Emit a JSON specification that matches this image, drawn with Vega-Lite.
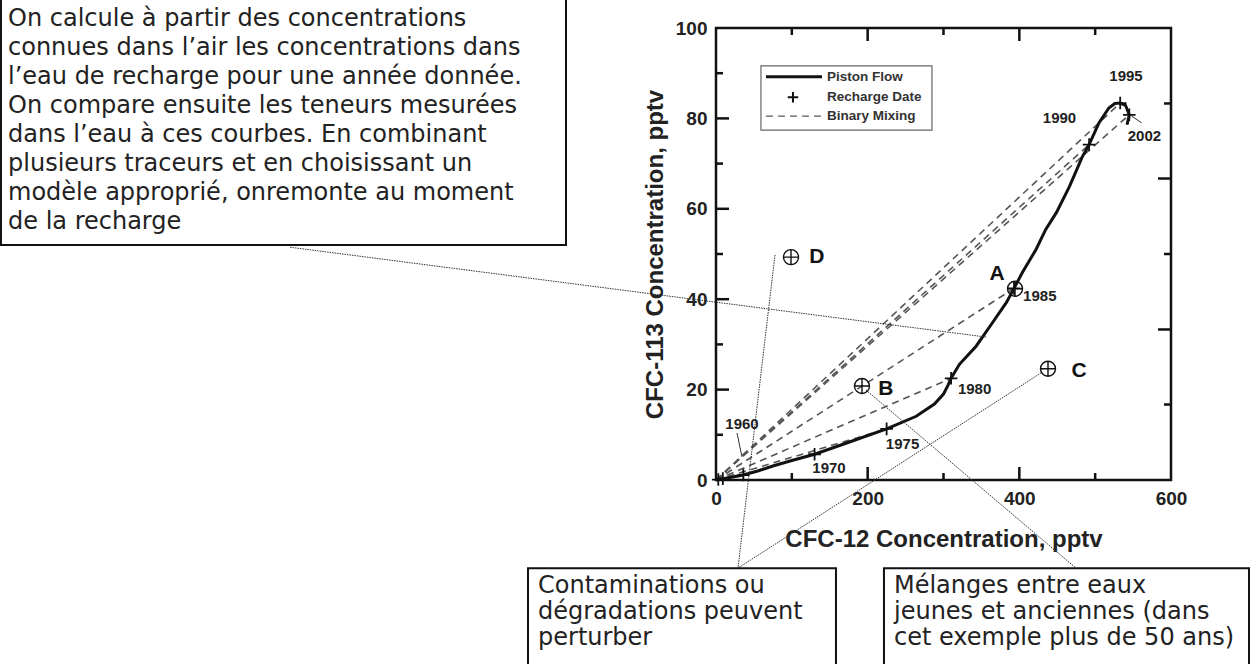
{
  "$schema": "https://vega.github.io/schema/vega-lite/v6.json",
  "width": 455,
  "height": 452,
  "autosize": {"type": "none"},
  "padding": {"left": 716, "top": 28, "right": 79, "bottom": 184},
  "background": "white",
  "config": {"view": {"stroke": "#111", "strokeWidth": 2.5}, "font": "Liberation Sans"},
  "datasets": {
    "curve": [
      {"x": 0, "y": 0, "o": 0}, {"x": 3, "y": 0.1, "o": 1}, {"x": 9, "y": 0.3, "o": 2}, {"x": 20, "y": 0.6, "o": 3},
      {"x": 36, "y": 1.1, "o": 4}, {"x": 55, "y": 2.0, "o": 5}, {"x": 75, "y": 3.1, "o": 6}, {"x": 100, "y": 4.3, "o": 7},
      {"x": 130, "y": 5.7, "o": 8}, {"x": 176, "y": 8.4, "o": 9}, {"x": 225, "y": 11.3, "o": 10}, {"x": 264, "y": 14.1, "o": 11},
      {"x": 288, "y": 16.8, "o": 12}, {"x": 300, "y": 19.0, "o": 13}, {"x": 306, "y": 21.0, "o": 14}, {"x": 310, "y": 22.5, "o": 15},
      {"x": 321, "y": 25.6, "o": 16}, {"x": 343, "y": 29.6, "o": 17}, {"x": 365, "y": 34.9, "o": 18}, {"x": 383, "y": 39.3, "o": 19},
      {"x": 393, "y": 42.4, "o": 20}, {"x": 404, "y": 45.9, "o": 21}, {"x": 422, "y": 51.0, "o": 22}, {"x": 435, "y": 55.5, "o": 23},
      {"x": 449, "y": 59.2, "o": 24}, {"x": 466, "y": 64.9, "o": 25}, {"x": 483, "y": 71.5, "o": 26}, {"x": 492, "y": 74.2, "o": 27},
      {"x": 505, "y": 79.0, "o": 28}, {"x": 518, "y": 82.3, "o": 29}, {"x": 526, "y": 83.3, "o": 30}, {"x": 533, "y": 83.4, "o": 31},
      {"x": 540, "y": 82.9, "o": 32}, {"x": 545, "y": 80.8, "o": 33}, {"x": 542, "y": 78.6, "o": 34}
    ],
    "dates": [
      {"x": 3, "y": 0.1}, {"x": 9, "y": 0.3}, {"x": 36, "y": 1.1}, {"x": 130, "y": 5.7}, {"x": 225, "y": 11.3},
      {"x": 310, "y": 22.5}, {"x": 393, "y": 42.4}, {"x": 492, "y": 74.2}, {"x": 533, "y": 83.4}, {"x": 545, "y": 80.8}
    ],
    "mixing": [
      {"x": 0, "y": 0, "x2": 225, "y2": 11.3},
      {"x": 0, "y": 0, "x2": 310, "y2": 22.5},
      {"x": 0, "y": 0, "x2": 393, "y2": 42.4},
      {"x": 0, "y": 0, "x2": 492, "y2": 74.2},
      {"x": 0, "y": 0, "x2": 533, "y2": 83.4},
      {"x": 0, "y": 0, "x2": 545, "y2": 80.8}
    ],
    "yearlabels": [
      {"x": 34.3, "y": 12.4, "t": "1960"}, {"x": 149, "y": 2.65, "t": "1970"}, {"x": 246, "y": 8.0, "t": "1975"},
      {"x": 341, "y": 20.1, "t": "1980"}, {"x": 427, "y": 40.7, "t": "1985"}, {"x": 453, "y": 80.1, "t": "1990"},
      {"x": 540.7, "y": 89.4, "t": "1995"}, {"x": 565, "y": 76.0, "t": "2002"}
    ],
    "yearleaders": [
      {"x": 27.7, "y": 10.4, "x2": 34.3, "y2": 5.1},
      {"x": 548.2, "y": 80.5, "x2": 561.4, "y2": 79.0}
    ],
    "samples": [
      {"x": 394.3, "y": 42.3, "t": "A"}, {"x": 192.5, "y": 20.8, "t": "B"},
      {"x": 437.8, "y": 24.6, "t": "C"}, {"x": 98.9, "y": 49.3, "t": "D"}
    ],
    "samplelabels": [
      {"x": 370.6, "y": 45.6, "t": "A"}, {"x": 224, "y": 20.1, "t": "B"},
      {"x": 478.7, "y": 24.1, "t": "C"}, {"x": 133, "y": 49.3, "t": "D"}
    ],
    "legendbox": [{"x": 59.3, "x2": 284.8, "y": 77.4, "y2": 91.6}],
    "legendsolid": [{"x": 65.9, "x2": 139.8, "y": 89.2, "y2": 89.2}],
    "legenddash": [{"x": 65.9, "x2": 139.8, "y": 80.5, "y2": 80.5}],
    "legendplus": [{"x": 101.5, "y": 84.7}],
    "legendtext": [
      {"x": 146.4, "y": 89.2, "t": "Piston Flow"},
      {"x": 146.4, "y": 84.7, "t": "Recharge Date"},
      {"x": 146.4, "y": 80.5, "t": "Binary Mixing"}
    ],
    "leaders": [
      {"x": -561.8, "y": 51.5, "x2": 357.4, "y2": 31.6},
      {"x": 77.8, "y": 49.8, "x2": 29.0, "y2": -19.5},
      {"x": 428.6, "y": 23.7, "x2": 29.0, "y2": -19.5},
      {"x": 197.8, "y": 19.9, "x2": 474.7, "y2": -19.5}
    ],
    "boxes": [
      {"x": -942.9, "x2": -197.8, "y": 106.6, "y2": 52.0},
      {"x": -247.9, "x2": 158.2, "y": -19.5, "y2": -41.5},
      {"x": 221.5, "x2": 702.9, "y": -19.5, "y2": -41.5}
    ],
    "boxtext": [
      {"x": -933.6, "y": 101.99, "t": "On calcule à partir des concentrations"},
      {"x": -933.6, "y": 95.58, "t": "connues dans l’air les concentrations dans"},
      {"x": -933.6, "y": 89.16, "t": "l’eau de recharge pour une année donnée."},
      {"x": -933.6, "y": 82.74, "t": "On compare ensuite les teneurs mesurées"},
      {"x": -933.6, "y": 76.33, "t": "dans l’eau à ces courbes. En combinant"},
      {"x": -933.6, "y": 69.91, "t": "plusieurs traceurs et en choisissant un"},
      {"x": -933.6, "y": 63.50, "t": "modèle approprié, onremonte au moment"},
      {"x": -933.6, "y": 57.08, "t": "de la recharge"},
      {"x": -234.7, "y": -23.45, "t": "Contaminations ou"},
      {"x": -234.7, "y": -29.20, "t": "dégradations peuvent"},
      {"x": -234.7, "y": -34.96, "t": "perturber"},
      {"x": 234.7, "y": -23.45, "t": "Mélanges entre eaux"},
      {"x": 234.7, "y": -29.20, "t": "jeunes  et anciennes  (dans"},
      {"x": 234.7, "y": -34.96, "t": "cet exemple plus de 50 ans)"}
    ],
    "xticks": [
      {"x": 100, "k": "minor"}, {"x": 200, "k": "major"}, {"x": 300, "k": "minor"},
      {"x": 400, "k": "major"}, {"x": 500, "k": "minor"}
    ],
    "lticks": [
      {"y": 10, "k": "minor"}, {"y": 20, "k": "major"}, {"y": 30, "k": "minor"}, {"y": 40, "k": "major"},
      {"y": 50, "k": "minor"}, {"y": 60, "k": "major"}, {"y": 70, "k": "minor"}, {"y": 80, "k": "major"}, {"y": 90, "k": "minor"}
    ],
    "rticks": [
      {"y": 16.7, "k": "minor"}, {"y": 33.3, "k": "major"}, {"y": 50, "k": "minor"},
      {"y": 66.7, "k": "major"}, {"y": 83.3, "k": "minor"}
    ]
  },
  "encoding": {
    "x": {
      "field": "x", "type": "quantitative",
      "scale": {"domain": [0, 600], "nice": false, "zero": false},
      "axis": {
        "title": "CFC-12 Concentration, pptv", "values": [0, 200, 400, 600], "ticks": false, "domain": false, "grid": false,
        "labelFont": "Liberation Sans", "labelFontWeight": "bold", "labelFontSize": 19, "labelColor": "#222",
        "labelPadding": 9, "labelFlush": false, "labelOverlap": false,
        "titleFont": "Liberation Sans", "titleFontWeight": "bold", "titleFontSize": 24, "titleColor": "#222", "titlePadding": 19
      }
    },
    "y": {
      "field": "y", "type": "quantitative",
      "scale": {"domain": [0, 100], "nice": false, "zero": false},
      "axis": {
        "title": "CFC-113 Concentration, pptv", "values": [0, 20, 40, 60, 80, 100], "ticks": false, "domain": false, "grid": false,
        "labelFont": "Liberation Sans", "labelFontWeight": "bold", "labelFontSize": 19, "labelColor": "#222",
        "labelPadding": 9, "labelOverlap": false,
        "titleFont": "Liberation Sans", "titleFontWeight": "bold", "titleFontSize": 24, "titleColor": "#222", "titlePadding": 8
      }
    }
  },
  "layer": [
    {
      "data": {"name": "xticks"},
      "mark": {"type": "tick", "clip": true, "color": "#111", "thickness": 2.5, "opacity": 1},
      "encoding": {"y": {"value": 452}, "size": {"field": "k", "type": "nominal", "scale": {"domain": ["major", "minor"], "range": [26, 14]}, "legend": null}}
    },
    {
      "data": {"name": "xticks"},
      "mark": {"type": "tick", "clip": true, "color": "#111", "thickness": 2.5, "opacity": 1},
      "encoding": {"y": {"value": 0}, "size": {"field": "k", "type": "nominal", "scale": {"domain": ["major", "minor"], "range": [26, 14]}, "legend": null}}
    },
    {
      "data": {"name": "lticks"},
      "mark": {"type": "tick", "clip": true, "color": "#111", "thickness": 2.5, "opacity": 1},
      "encoding": {"x": {"value": 0}, "size": {"field": "k", "type": "nominal", "scale": {"domain": ["major", "minor"], "range": [26, 14]}, "legend": null}}
    },
    {
      "data": {"name": "rticks"},
      "mark": {"type": "tick", "clip": true, "color": "#111", "thickness": 2.5, "opacity": 1},
      "encoding": {"x": {"value": 455}, "size": {"field": "k", "type": "nominal", "scale": {"domain": ["major", "minor"], "range": [26, 14]}, "legend": null}}
    },
    {
      "data": {"name": "mixing"},
      "mark": {"type": "rule", "color": "#555", "strokeWidth": 1.6, "strokeDash": [7, 5]},
      "encoding": {"x2": {"field": "x2"}, "y2": {"field": "y2"}}
    },
    {
      "data": {"name": "curve"},
      "mark": {"type": "line", "color": "#111", "strokeWidth": 3},
      "encoding": {"order": {"field": "o", "type": "quantitative"}}
    },
    {
      "data": {"name": "dates"},
      "mark": {"type": "point", "shape": "M -1 0 L 1 0 M 0 -1 L 0 1", "size": 160, "filled": false, "color": "#111", "strokeWidth": 1.8, "opacity": 1},
      "encoding": {}
    },
    {
      "data": {"name": "yearleaders"},
      "mark": {"type": "rule", "color": "#333", "strokeWidth": 1},
      "encoding": {"x2": {"field": "x2"}, "y2": {"field": "y2"}}
    },
    {
      "data": {"name": "yearlabels"},
      "mark": {"type": "text", "font": "Liberation Sans", "fontWeight": "bold", "fontSize": 15, "color": "#222", "align": "center", "baseline": "middle"},
      "encoding": {"text": {"field": "t"}}
    },
    {
      "data": {"name": "samples"},
      "mark": {"type": "point", "shape": "M -1 0 A 1 1 0 1 1 1 0 A 1 1 0 1 1 -1 0 Z M -1 0 L 1 0 M 0 -1 L 0 1", "size": 225, "filled": false, "color": "#111", "strokeWidth": 1.4, "opacity": 1},
      "encoding": {}
    },
    {
      "data": {"name": "samplelabels"},
      "mark": {"type": "text", "font": "Liberation Sans", "fontWeight": "bold", "fontSize": 21, "color": "#111", "align": "center", "baseline": "middle"},
      "encoding": {"text": {"field": "t"}}
    },
    {
      "data": {"name": "legendbox"},
      "mark": {"type": "rect", "fill": "white", "stroke": "#666", "strokeWidth": 1.2},
      "encoding": {"x2": {"field": "x2"}, "y2": {"field": "y2"}}
    },
    {
      "data": {"name": "legendsolid"},
      "mark": {"type": "rule", "color": "#111", "strokeWidth": 3},
      "encoding": {"x2": {"field": "x2"}, "y2": {"field": "y2"}}
    },
    {
      "data": {"name": "legenddash"},
      "mark": {"type": "rule", "color": "#5a5a5a", "strokeWidth": 1.4, "strokeDash": [7, 5]},
      "encoding": {"x2": {"field": "x2"}, "y2": {"field": "y2"}}
    },
    {
      "data": {"name": "legendplus"},
      "mark": {"type": "point", "shape": "M -1 0 L 1 0 M 0 -1 L 0 1", "size": 110, "filled": false, "color": "#111", "strokeWidth": 2, "opacity": 1},
      "encoding": {}
    },
    {
      "data": {"name": "legendtext"},
      "mark": {"type": "text", "font": "Liberation Sans", "fontWeight": "bold", "fontSize": 13.5, "color": "#333", "align": "left", "baseline": "middle"},
      "encoding": {"text": {"field": "t"}}
    },
    {
      "data": {"name": "leaders"},
      "mark": {"type": "rule", "color": "#333", "strokeWidth": 1, "strokeDash": [1.5, 1]},
      "encoding": {"x2": {"field": "x2"}, "y2": {"field": "y2"}}
    },
    {
      "data": {"name": "boxes"},
      "mark": {"type": "rect", "fill": "white", "stroke": "#111", "strokeWidth": 2},
      "encoding": {"x2": {"field": "x2"}, "y2": {"field": "y2"}}
    },
    {
      "data": {"name": "boxtext"},
      "mark": {"type": "text", "font": "DejaVu Sans", "fontSize": 24, "color": "#222", "align": "left", "baseline": "middle"},
      "encoding": {"text": {"field": "t"}}
    }
  ]
}
